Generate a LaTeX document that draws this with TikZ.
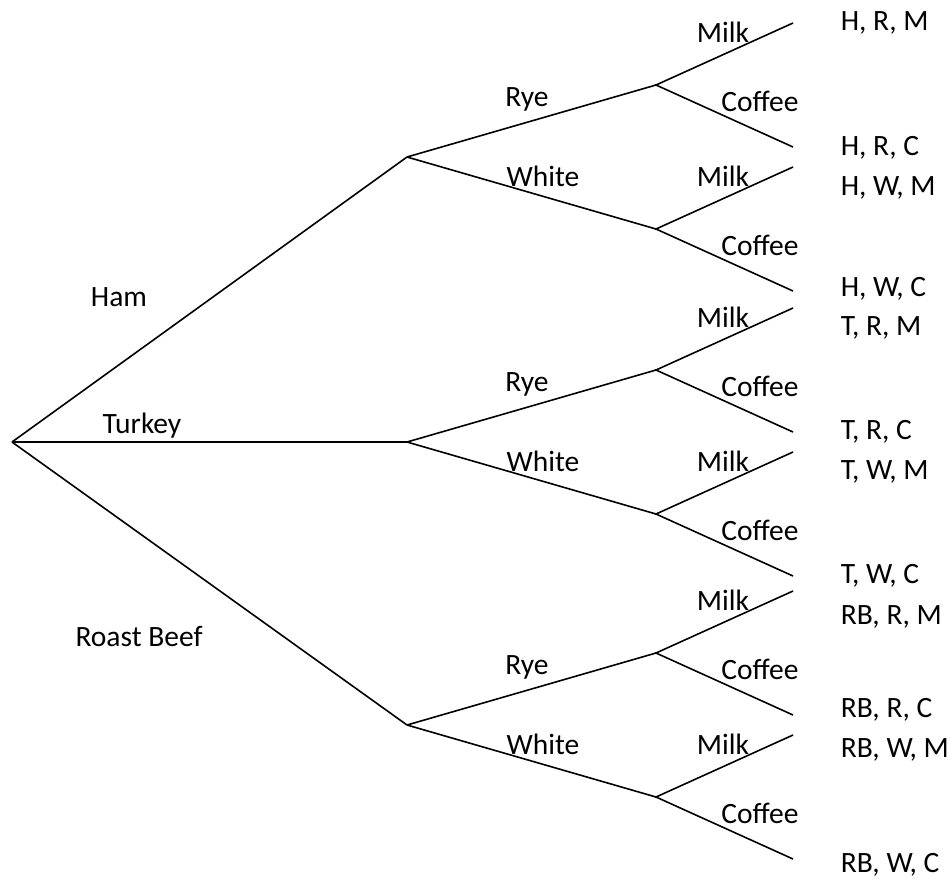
\documentclass[tikz,border=0pt]{standalone}
\usepackage{fontspec}
\setmainfont{Carlito}
\begin{document}
\begin{tikzpicture}[x=1pt,y=-1pt,line width=1.6pt,
  lbl/.style={inner sep=0pt,text height=18.6pt,text depth=0pt,font=\fontsize{29.5}{35}\selectfont},
  leaf/.style={lbl,anchor=west}]
  \useasboundingbox (0,0) rectangle (952,879);
  \coordinate (root) at (12,442);
  \foreach \m/\y/\l/\lx/\ly in {H/157/Ham/119/297, T/442/Turkey/142/424, RB/725/Roast Beef/139/637} {
    \coordinate (\m) at (407,\y);
    \draw (root) -- (\m);
    \node[lbl] (\m-lbl) at (\lx,\ly) {\l};
    \node[lbl] (\m-rye) at (527,\y-60) {Rye};
    \node[lbl] (\m-white) at (543,\y+20) {White};
    \foreach \br/\by in {R/-72, W/72} {
      \coordinate (\m\br) at (656,\y+\by);
      \coordinate (\m\br M) at (793,\y+\by-62);
      \coordinate (\m\br C) at (793,\y+\by+62);
      \draw (\m) -- (\m\br);
      \draw (\m\br M) -- (\m\br) -- (\m\br C);
      \node[lbl] (\m\br-milk) at (723,\y+\by-52) {Milk};
      \node[lbl] (\m\br-coffee) at (760,\y+\by+17) {Coffee};
    }
  }
  % outcomes
  \foreach \t/\ly [count=\i] in {{H, R, M}/21, {H, R, C}/146, {H, W, M}/186, {H, W, C}/287,
      {T, R, M}/326, {T, R, C}/430, {T, W, M}/470, {T, W, C}/574,
      {RB, R, M}/615, {RB, R, C}/708, {RB, W, M}/748, {RB, W, C}/863} {
    \node[leaf] (out\i) at (840,\ly) {\t};
  }
\end{tikzpicture}
\end{document}
